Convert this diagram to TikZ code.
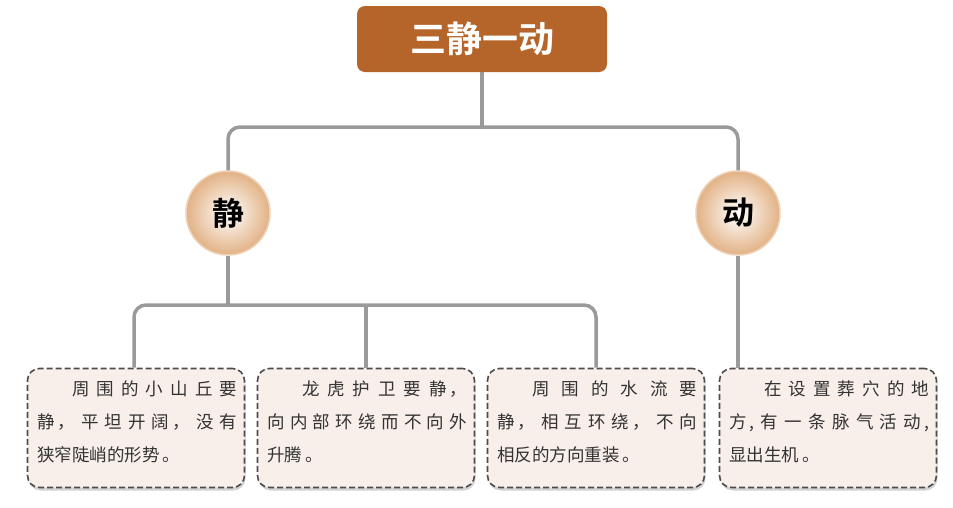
\documentclass[tikz,border=0pt]{standalone}
\usepackage{fontspec}
\newfontfamily\cjk[LetterSpace=18]{Noto Sans CJK SC}
\newfontfamily\cjkb{Noto Sans CJK SC Bold}
\usetikzlibrary{shadows}
\XeTeXlinebreaklocale "zh"
\XeTeXlinebreakskip=0pt plus 3pt
\definecolor{brown1}{HTML}{B5652A}
\definecolor{lineg}{HTML}{9A9A9A}
\definecolor{boxf}{HTML}{F8EEEA}
\definecolor{tan1}{HTML}{DDA46F}
\tikzset{
 conn/.style={draw=lineg,line width=3.5pt,rounded corners=12pt},
 plain/.style={draw=lineg,line width=3.5pt},
 topbox/.style={fill=brown1,rounded corners=8pt,minimum width=250pt,minimum height=66pt,text=white,font=\cjkb\fontsize{36}{40}\selectfont},
 circ/.style={circle,minimum size=84pt,inner color=white,outer color=tan1!85,draw=tan1!50,line width=1.5pt,font=\cjkb\fontsize{32}{36}\selectfont},
 txtbox/.style={draw=black!70,dash pattern=on 6pt off 3pt,line width=1.6pt,fill=boxf,rounded corners=12pt,minimum width=217pt,minimum height=119pt,drop shadow={opacity=0.35,shadow xshift=1pt,shadow yshift=-3pt}},
 txt/.style={text width=200pt,align=justify,font=\cjk\fontsize{17.5}{33}\selectfont,text=black!80,inner sep=0pt,anchor=north west}
}
\begin{document}
\begin{tikzpicture}[x=1pt,y=-1pt]
\useasboundingbox (0,0) rectangle (953,507);
\node[topbox] (top) at (482,39) {三静一动};
\node[circ] (jing) at (228,213) {静};
\node[circ] (dong) at (738,213) {动};
\node[txtbox] (b1) at (136,428) {};
\node[txtbox] (b2) at (366,428) {};
\node[txtbox] (b3) at (596,428) {};
\node[txtbox] (b4) at (828,428) {};
\coordinate (h1) at (482,127);
\coordinate (h2) at (366,305);
\coordinate (j2) at (228,305);
\coordinate (d2) at (738,368);
\draw[plain] (top.south) -- (h1);
\draw[conn] (jing.north) |- (h1) -| (dong.north);
\draw[plain] (jing.south) -- (j2);
\draw[conn] ([xshift=-2pt]b1.north) |- (j2) -| (b3.north);
\draw[plain] (h2) -- (b2.north);
\draw[plain] (dong.south) -- (d2);
\node[txt] (t1) at (37,381) {\hspace*{2em}周围的小山丘要\linebreak 静，平坦开阔，没有\linebreak 狭窄陡峭的形势。};
\node[txt] (t2) at (267,381) {\hspace*{2em}龙虎护卫要静，\linebreak 向内部环绕而不向外\linebreak 升腾。};
\node[txt] (t3) at (497,381) {\hspace*{2em}周\hfill 围\hfill 的\hfill 水\hfill 流\hfill 要\linebreak 静，相互环绕，不向\linebreak 相反的方向重装。};
\node[txt] (t4) at (729,381) {\hspace*{2em}在设置葬穴的地\linebreak 方,有一条脉气活动,\linebreak 显出生机。};
\end{tikzpicture}
\end{document}
